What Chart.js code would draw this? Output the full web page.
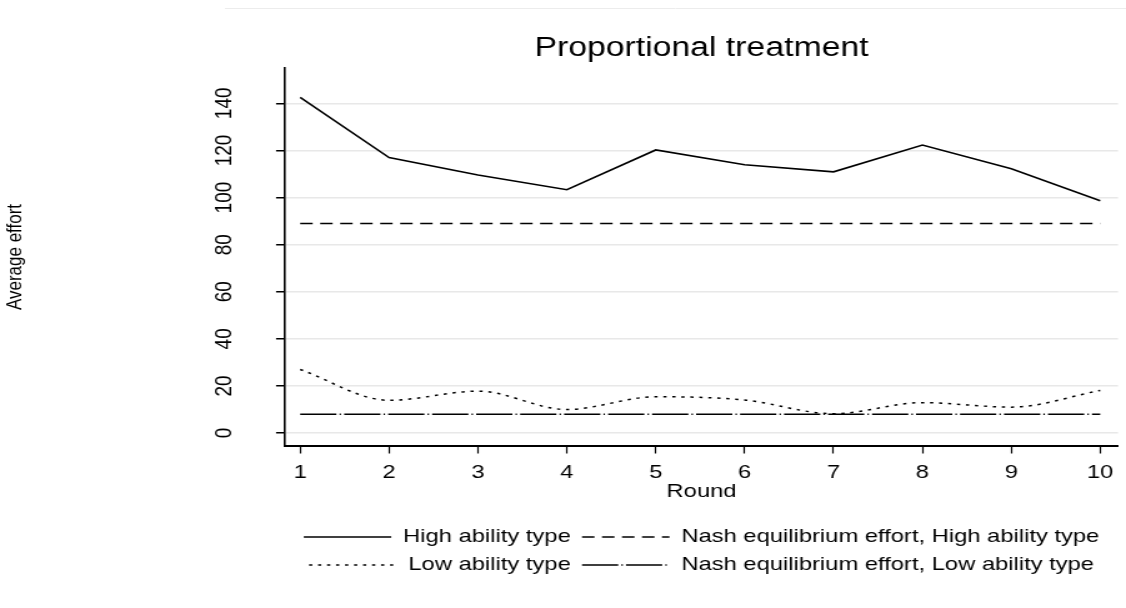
<!DOCTYPE html>
<html>
<head>
<meta charset="utf-8">
<title>Proportional treatment</title>
<script src="https://cdn.jsdelivr.net/npm/chart.js@4.4.1/dist/chart.umd.min.js"></script>
<style>
  html, body { margin: 0; padding: 0; background: #fff; overflow: hidden; }
  /* laid out narrower, then stretched sideways for the wide lettering */
  #wrap { width: 901px; height: 608px; transform: scaleX(1.2497); transform-origin: 0 0; }
</style>
</head>
<body>
<div id="wrap"><canvas id="effortChart"></canvas></div>
<script>
const rounds = [1, 2, 3, 4, 5, 6, 7, 8, 9, 10];
const highAbility = [142.5, 117.0, 109.6, 103.3, 120.2, 113.9, 110.9, 122.3, 112.2, 98.6];
const lowAbility = [27.0, 13.9, 17.8, 10.0, 15.4, 14.0, 8.2, 12.9, 11.0, 18.1];
const nashHigh = [89, 89, 89, 89, 89, 89, 89, 89, 89, 89];
const nashLow = [8, 8, 8, 8, 8, 8, 8, 8, 8, 8];
const yTicks = [0, 20, 40, 60, 80, 100, 120, 140];

Chart.defaults.font.family = "'Liberation Sans', Arial, Helvetica, sans-serif";
Chart.defaults.color = "#000";

const toPoints = (vals) => rounds.map((r, i) => ({ x: r, y: vals[i] }));

const series = (label, vals, dash, width) => ({
  label: label,
  data: toPoints(vals),
  borderColor: "#000",
  backgroundColor: "transparent",
  borderWidth: width,
  borderDash: dash,
  borderCapStyle: "butt",
  pointRadius: 0,
  pointHoverRadius: 0,
  fill: false,
});

const lowSeries = series("Low ability type", lowAbility, [2.6, 4.6], 1.5);
lowSeries.cubicInterpolationMode = "monotone";

// thin grey rule across the top of the panel
const topRule = {
  id: "topRule",
  beforeDraw(chart) {
    const c = chart.ctx;
    c.save();
    c.strokeStyle = "#ececec";
    c.lineWidth = 1;
    c.beginPath();
    c.moveTo(180, 8.5);
    c.lineTo(chart.width, 8.5);
    c.stroke();
    c.restore();
  },
};

new Chart(document.getElementById("effortChart").getContext("2d"), {
  type: "line",
  data: {
    datasets: [
      series("High ability type", highAbility, [], 1.6),
      series("Nash equilibrium effort, High ability type", nashHigh, [10, 6], 1.5),
      lowSeries,
      series("Nash equilibrium effort, Low ability type", nashLow, [29, 2.5, 1.2, 2.5], 1.5),
    ],
  },
  options: {
    responsive: true,
    maintainAspectRatio: false,
    animation: false,
    events: [],
    layout: { padding: { top: 0, right: 6.4, bottom: 23.5, left: 0 } },
    plugins: {
      tooltip: { enabled: false },
      title: {
        display: true,
        text: "Proportional treatment",
        fullSize: false,
        color: "#000",
        font: { size: 27, weight: "normal", lineHeight: 1.2 },
        padding: { top: 32, bottom: 3.6 },
      },
      legend: {
        position: "bottom",
        fullSize: false,
        labels: {
          usePointStyle: true,
          pointStyle: "line",
          pointStyleWidth: 70,
          padding: 9,
          color: "#000",
          font: { size: 19 },
          // carry each dataset's dash pattern into its legend sample
          generateLabels(chart) {
            const items = Chart.defaults.plugins.legend.labels.generateLabels(chart);
            items.forEach((item) => {
              const ds = chart.data.datasets[item.datasetIndex];
              item.lineDash = ds.borderDash;
              item.lineWidth = ds.borderWidth;
              item.strokeStyle = ds.borderColor;
            });
            return items;
          },
        },
      },
    },
    scales: {
      x: {
        type: "linear",
        min: 0.83,
        max: 10.2,
        afterBuildTicks: (s) => {
          s.ticks = rounds.map((v) => ({ value: v }));
        },
        ticks: { color: "#000", font: { size: 19, lineHeight: 1.2 }, padding: 8.1 },
        grid: { drawOnChartArea: false, tickLength: 7.5, tickColor: "#000", tickWidth: 1.2 },
        border: { color: "#000", width: 2 },
        title: {
          display: true,
          text: "Round",
          color: "#000",
          font: { size: 19, lineHeight: 1 },
          padding: { top: -10, bottom: 17 },
        },
      },
      y: {
        type: "linear",
        min: -5.5,
        max: 155,
        afterBuildTicks: (s) => {
          s.ticks = yTicks.map((v) => ({ value: v }));
        },
        ticks: {
          color: "#000",
          font: { size: 19, lineHeight: 1.2 },
          padding: 25,
          minRotation: 90,
          maxRotation: 90,
          crossAlign: "center",
        },
        grid: { color: "#e8e8e8", lineWidth: 1.5, tickLength: 7.2, tickColor: "#000", tickWidth: 1.5 },
        border: { color: "#000", width: 1.6 },
        title: {
          display: true,
          text: "Average effort",
          color: "#000",
          font: { size: 17, lineHeight: 1.2 },
          padding: { top: 1.8, bottom: 125.9 },
        },
      },
    },
  },
  plugins: [topRule],
});
</script>
</body>
</html>
